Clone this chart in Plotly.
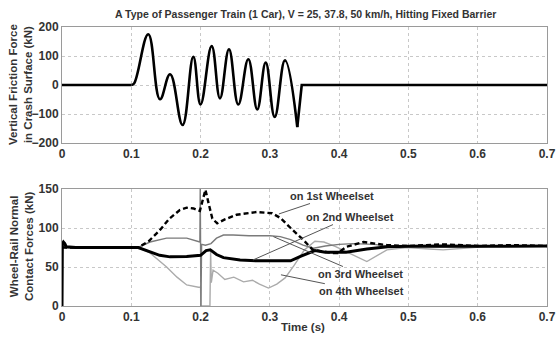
import plotly.graph_objects as go

# Upper panel: vertical friction force on the crash surface (kN)
t_friction = [0.0, 0.100, 0.104, 0.1245, 0.1414, 0.156, 0.174, 0.1895, 0.200, 0.216,
              0.228, 0.241, 0.2544, 0.2689, 0.2818, 0.294, 0.307, 0.3218, 0.3396,
              0.346, 0.7]
f_friction = [0, 0, 5, 175, -49, 37, -138, 97, -67, 134,
              -46, 123, -67, 89, -84, 77, -110, 85, -145,
              0, 0]

# Lower panel: wheel-rail normal contact forces (kN)
t_ws1 = [0.0, 0.11, 0.125, 0.141, 0.155, 0.17, 0.18, 0.19, 0.199, 0.203, 0.207, 0.212,
         0.217, 0.224, 0.235, 0.252, 0.281, 0.303, 0.315, 0.33, 0.348, 0.362, 0.375,
         0.39, 0.398, 0.411, 0.435, 0.469, 0.5, 0.55, 0.6, 0.65, 0.7]
f_ws1 = [75, 75, 83, 97, 112, 123, 126, 125, 122, 135, 149, 130,
         112, 106, 111, 117, 120.5, 119, 113, 100, 85, 72, 70,
         68, 68, 76, 82, 78, 77, 79, 77, 78, 77]

t_ws2 = [0.0, 0.0005, 0.002, 0.004, 0.006, 0.01, 0.02, 0.11, 0.125, 0.141, 0.156,
         0.18, 0.2, 0.208, 0.214, 0.223, 0.233, 0.257, 0.28, 0.33, 0.345, 0.365,
         0.38, 0.41, 0.44, 0.47, 0.5, 0.55, 0.6, 0.65, 0.7]
f_ws2 = [0, 80, 82, 80, 76, 75.5, 75, 75, 70, 65, 63,
         63.5, 65, 71, 72, 66, 62, 59, 58, 58, 64, 71,
         69, 69, 73, 76, 76.5, 77, 76.5, 77, 77]

t_ws3 = [0.0, 0.11, 0.127, 0.151, 0.18, 0.199, 0.1995, 0.2005, 0.2015, 0.207, 0.215,
         0.223, 0.233, 0.247, 0.27, 0.3, 0.315, 0.33, 0.348, 0.363, 0.38, 0.4, 0.42,
         0.45, 0.47, 0.5, 0.55, 0.6, 0.65, 0.7]
f_ws3 = [75, 75, 82, 87, 87, 82, 152, 0, 79, 78, 80,
         87, 91, 91, 90, 90, 89, 85, 78, 74, 77, 79, 80,
         79, 77, 77, 76, 76.5, 77, 77]

t_ws4 = [0.0, 0.11, 0.127, 0.151, 0.166, 0.18, 0.197, 0.2, 0.2005, 0.2135, 0.2145,
         0.2155, 0.218, 0.225, 0.235, 0.248, 0.262, 0.275, 0.285, 0.298, 0.31, 0.322,
         0.335, 0.35, 0.365, 0.378, 0.395, 0.41, 0.44, 0.469, 0.498, 0.53, 0.55,
         0.58, 0.62, 0.7]
f_ws4 = [75, 75, 68, 50, 37, 27, 24, 24, 0, 0, 70,
         30, 46, 42, 34, 37, 31, 33, 28, 23, 28, 36,
         52, 72, 83, 82, 76, 70, 57, 72, 75, 73, 72,
         74, 77, 77]

x_ticks = [0, 0.1, 0.2, 0.3, 0.4, 0.5, 0.6, 0.7]
x_tick_text = ["0", "0.1", "0.2", "0.3", "0.4", "0.5", "0.6", "0.7"]
y1_ticks = [-200, -100, 0, 100, 200]
y2_ticks = [0, 50, 100, 150]

W, H = 560, 337
FONT = "Liberation Sans, Arial, sans-serif"
TXT = "#333333"

fig = go.Figure()

# friction force: flat lead-in, oscillating crash phase, release and flat tail
fig.add_trace(go.Scatter(x=t_friction[:2], y=f_friction[:2], mode="lines",
                         line=dict(color="black", width=2.6), xaxis="x", yaxis="y"))
fig.add_trace(go.Scatter(x=t_friction[1:19], y=f_friction[1:19], mode="lines",
                         line=dict(color="black", width=2.6, shape="spline", smoothing=1.2),
                         xaxis="x", yaxis="y"))
fig.add_trace(go.Scatter(x=t_friction[18:], y=f_friction[18:], mode="lines",
                         line=dict(color="black", width=2.6), xaxis="x", yaxis="y"))

# contact forces per wheelset
fig.add_trace(go.Scatter(x=t_ws4, y=f_ws4, mode="lines",
                         line=dict(color="#ababab", width=1.4), xaxis="x2", yaxis="y2"))
fig.add_trace(go.Scatter(x=t_ws3, y=f_ws3, mode="lines",
                         line=dict(color="#7a7a7a", width=1.4), xaxis="x2", yaxis="y2"))
fig.add_trace(go.Scatter(x=t_ws1, y=f_ws1, mode="lines",
                         line=dict(color="black", width=2.4, dash="5px,3px"), xaxis="x2", yaxis="y2"))
fig.add_trace(go.Scatter(x=t_ws2, y=f_ws2, mode="lines",
                         line=dict(color="black", width=3.0), xaxis="x2", yaxis="y2"))

x_dom = [62 / W, 547 / W]
axis_common = dict(showline=True, linecolor="#9a9a9a", linewidth=1, mirror=True,
                   showgrid=True, gridcolor="#c8c8c8", griddash="dot", gridwidth=1,
                   zeroline=False, ticks="", automargin=False,
                   tickfont=dict(family=FONT, size=12, color=TXT, weight="bold"))

fig.update_layout(
    width=W, height=H, margin=dict(l=0, r=0, t=0, b=0, autoexpand=False),
    paper_bgcolor="white", plot_bgcolor="white", showlegend=False,
    xaxis=dict(domain=x_dom, range=[0, 0.7], tickvals=x_ticks, ticktext=x_tick_text,
               anchor="y", **axis_common),
    yaxis=dict(domain=[1 - 143 / H, 1 - 27 / H], range=[-200, 200], tickvals=y1_ticks,
               anchor="x", **axis_common),
    xaxis2=dict(domain=x_dom, range=[0, 0.7], tickvals=x_ticks, ticktext=x_tick_text,
                anchor="y2", **axis_common),
    yaxis2=dict(domain=[1 - 306 / H, 1 - 189 / H], range=[0, 150], tickvals=y2_ticks,
                anchor="x2", **axis_common),
)

bold = dict(family=FONT, color=TXT, weight="bold")
centered = dict(xref="paper", yref="paper", xanchor="center", yanchor="middle", showarrow=False)

fig.add_annotation(text="A Type of Passenger Train (1 Car), V = 25, 37.8, 50 km/h, Hitting Fixed Barrier",
                   x=305 / W, y=1 - 14 / H, font=dict(size=10.5, **bold), **centered)
fig.add_annotation(text="Vertical Friction Force<br>in Crash Surface (kN)", textangle=-90,
                   x=21 / W, y=1 - 85 / H, font=dict(size=11.5, **bold), **centered)
fig.add_annotation(text="Wheel-Rail Normal<br>Contact Forces (kN)", textangle=-90,
                   x=21 / W, y=1 - 247 / H, font=dict(size=11.5, **bold), **centered)
fig.add_annotation(text="Time (s)", x=303 / W, y=1 - 327 / H,
                   font=dict(size=11.5, **bold), **centered)

# leader-line labels for the wheelsets
labels = [
    ("on 1st Wheelset", 0.313, 118, 0.3903, 141),
    ("on 2nd Wheelset", 0.2756, 59, 0.4156, 114),
    ("on 3rd Wheelset", 0.305, 89, 0.4307, 41),
    ("on 4th Wheelset", 0.316, 40, 0.4329, 19),
]
for text, px_, py_, tx, ty in labels:
    fig.add_annotation(text=text, x=px_, y=py_, ax=tx, ay=ty, xref="x2", yref="y2",
                       axref="x2", ayref="y2", showarrow=True, arrowhead=0,
                       arrowwidth=1, arrowcolor="#555555",
                       font=dict(size=11, **bold), bgcolor="rgba(0,0,0,0)")

fig.write_html("out.html")
